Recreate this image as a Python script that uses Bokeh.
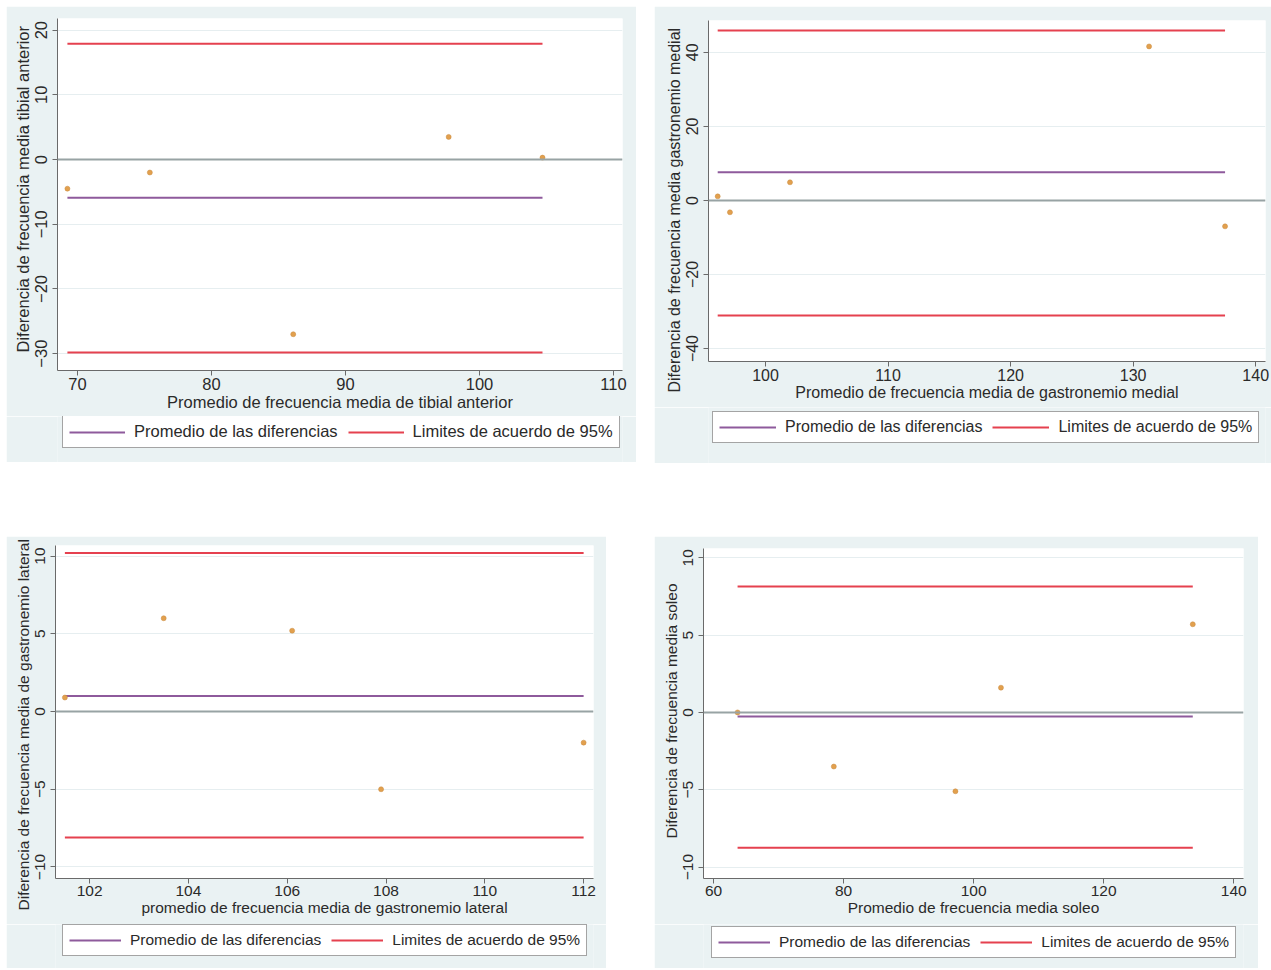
from bokeh.plotting import figure
from bokeh.models import (Range1d, FixedTicker, Legend, LegendItem, Span, Spacer, ColumnDataSource, Title)
from bokeh.layouts import row, column
from bokeh.embed import file_html
from bokeh.resources import INLINE

# ---------------- data ----------------
# Panel 1: tibial anterior
avg_ta = [69.25, 75.4, 86.1, 97.7, 104.7]
diff_ta = [-4.5, -2.0, -27.0, 3.5, 0.3]
mean_ta = -5.9
loa_ta = [-29.8, 17.9]

# Panel 2: gastronemio medial
avg_gm = [96.1, 97.1, 102.0, 131.3, 137.5]
diff_gm = [1.1, -3.2, 4.9, 41.6, -7.0]
mean_gm = 7.6
loa_gm = [-31.1, 45.9]

# Panel 3: gastronemio lateral
avg_gl = [101.5, 103.5, 106.1, 107.9, 112.0]
diff_gl = [0.9, 6.0, 5.2, -5.0, -2.0]
mean_gl = 1.0
loa_gl = [-8.1, 10.2]

# Panel 4: soleo
avg_so = [63.7, 78.5, 97.2, 104.2, 133.7]
diff_so = [0.0, -3.5, -5.1, 1.6, 5.7]
mean_so = -0.26
loa_so = [-8.75, 8.15]

xticks_ta = [70, 80, 90, 100, 110]
yticks_ta = [-30, -20, -10, 0, 10, 20]
xticks_gm = [100, 110, 120, 130, 140]
yticks_gm = [-40, -20, 0, 20, 40]
xticks_gl = [102, 104, 106, 108, 110, 112]
yticks_gl = [-10, -5, 0, 5, 10]
xticks_so = [60, 80, 100, 120, 140]
yticks_so = [-10, -5, 0, 5, 10]

legend_labels = ["Promedio de las diferencias", "Limites de acuerdo de 95%"]

FONT = "Liberation Sans"
OUTER = "#EAF2F3"
PURPLE = "#8E5A9C"
RED = "#E5414F"
DOT = "#E2A04E"
ZERO = "#98A3A4"
AXIS = "#6A6A6A"
TEXT = "#2A2A2A"


def style_legend(legend, fs, glyph_w, label_w):
    legend.border_line_color = "#4A4A4A"
    legend.border_line_width = 1
    legend.background_fill_color = "white"
    legend.background_fill_alpha = 1
    legend.label_text_font = FONT
    legend.label_text_font_size = f"{fs}px"
    legend.label_text_color = TEXT
    legend.glyph_width = glyph_w
    legend.glyph_height = 18
    legend.label_standoff = 9
    legend.label_width = label_w
    legend.label_height = 18
    legend.spacing = 10
    legend.padding = 6
    legend.margin = 0


def make_panel(avg, diff, mean_d, loa, xt, yt, xr, yr, fig_w, fig_h, frame, xtitle, ytitle,
               fs, legend_fs, glyph_w, label_w, leg_box, ytitle_offset):
    fl, fr, ft, fb, fig_left, fig_top = frame
    bl = fl - fig_left
    bt = ft - fig_top
    fw = fr - fl
    fh = fb - ft
    br = fig_w - bl - fw
    bb = 46
    p = figure(frame_width=fw, frame_height=fh, output_backend="svg", toolbar_location=None,
               x_range=Range1d(*xr), y_range=Range1d(*yr),
               min_border_left=bl, min_border_right=br, min_border_top=bt,
               min_border_bottom=bb)
    p.background_fill_color = "white"
    p.border_fill_color = OUTER
    p.outline_line_color = None

    p.xgrid.grid_line_color = None
    p.ygrid.grid_line_color = "#E6EEF0"
    p.ygrid.grid_line_width = 1
    p.ygrid.ticker = FixedTicker(ticks=yt)
    p.xaxis.ticker = FixedTicker(ticks=xt)
    p.yaxis.ticker = FixedTicker(ticks=yt)

    for ax in (p.xaxis[0], p.yaxis[0]):
        ax.axis_line_color = AXIS
        ax.major_tick_line_color = AXIS
        ax.major_tick_out = 5
        ax.major_tick_in = 0
        ax.minor_tick_line_color = None
        ax.major_label_text_font = FONT
        ax.major_label_text_font_size = f"{fs}px"
        ax.major_label_text_color = TEXT
        ax.axis_label_text_font = FONT
        ax.axis_label_text_font_size = f"{fs}px"
        ax.axis_label_text_font_style = "normal"
        ax.axis_label_text_color = TEXT
    p.xaxis.axis_label = xtitle
    p.xaxis.major_label_standoff = 2
    p.xaxis.axis_label_standoff = 0
    p.yaxis.major_label_orientation = "vertical"
    p.yaxis.major_label_standoff = 5

    yt_title = Title(text=ytitle, align="left", offset=ytitle_offset, standoff=2,
                     text_font=FONT, text_font_size=f"{fs}px", text_font_style="normal",
                     text_color=TEXT)
    p.add_layout(yt_title, "left")

    p.add_layout(Span(location=0, dimension="width", line_color=ZERO, line_width=2))

    x0 = min(avg)
    x1 = max(avg)
    src_mean = ColumnDataSource(dict(x0=[x0], x1=[x1], y=[mean_d]))
    src_loa = ColumnDataSource(dict(x0=[x0, x0], x1=[x1, x1], y=loa))
    p.segment(x0="x0", y0="y", x1="x1", y1="y", source=src_mean,
              line_color=PURPLE, line_width=2)
    p.segment(x0="x0", y0="y", x1="x1", y1="y", source=src_loa,
              line_color=RED, line_width=2)
    p.scatter(avg, diff, size=5, fill_color=DOT, line_color="#C98A40", line_width=0.5)

    # legend strip under the plot (same grey graph region); its frame is aligned with the plot's
    plot_bottom = fb + bb
    leg_h = fig_top + fig_h - plot_bottom
    lg = figure(width=fig_w, height=leg_h, output_backend="svg", toolbar_location=None,
                x_range=Range1d(0, 1), y_range=Range1d(0, 1),
                x_axis_location=None, y_axis_location=None,
                min_border_left=bl, min_border_right=br, min_border_top=0, min_border_bottom=0)
    lg.background_fill_color = OUTER
    lg.border_fill_color = OUTER
    lg.outline_line_color = None
    lg.grid.visible = False
    # legend keys reuse the plot's sources (they fall outside this strip's 0..1 ranges)
    g_mean = lg.segment(x0="x0", y0="y", x1="x1", y1="y", source=src_mean,
                        line_color=PURPLE, line_width=2)
    g_loa = lg.segment(x0="x0", y0="y", x1="x1", y1="y", source=src_loa,
                       line_color=RED, line_width=2)
    box_left, box_top = leg_box
    legend = Legend(items=[LegendItem(label=legend_labels[0], renderers=[g_mean]),
                           LegendItem(label=legend_labels[1], renderers=[g_loa])],
                    orientation="horizontal")
    style_legend(legend, legend_fs, glyph_w, label_w)
    legend.location = (box_left - fl, leg_h - (box_top + 30 - plot_bottom))
    lg.add_layout(legend, "center")
    return column(p, lg)


# frame = (frame_left, frame_right, frame_top, frame_bottom, fig_left, fig_top)
p1 = make_panel(avg_ta, diff_ta, mean_ta, loa_ta, xticks_ta, yticks_ta,
                (68.51, 110.67), (-32.6, 21.8), 630, 456, (57, 622, 18, 370, 6, 6),
                "Promedio de frecuencia media de tibial anterior",
                "Diferencia de frecuencia media tibial anterior", 16.5, 16.5, 56, 198, (62, 418), 18)
p2 = make_panel(avg_gm, diff_gm, mean_gm, loa_gm, xticks_gm, yticks_gm,
                (95.35, 140.8), (-43.5, 48.6), 617, 457, (708, 1265, 20, 361, 654, 6),
                "Promedio de frecuencia media de gastronemio medial",
                "Diferencia de frecuencia media gastronemio medial", 16, 16, 57, 194, (712, 413), -31)
p3 = make_panel(avg_gl, diff_gl, mean_gl, loa_gl, xticks_gl, yticks_gl,
                (101.31, 112.2), (-10.74, 10.68), 600, 432, (55, 593, 545, 878, 6, 536),
                "promedio de frecuencia media de gastronemio lateral",
                "Diferencia de frecuencia media de gastronemio lateral", 15.5, 15.5, 52, 186, (62, 926), -32)
p4 = make_panel(avg_so, diff_so, mean_so, loa_so, xticks_so, yticks_so,
                (58.46, 141.5), (-10.74, 10.6), 604, 432, (703, 1243, 548, 878, 654, 536),
                "Promedio de frecuencia media soleo",
                "Diferencia de frecuencia media soleo", 15.5, 15.5, 52, 186, (711, 928), 40)

row1 = row(Spacer(width=6), p1, Spacer(width=18), p2)
row2 = row(Spacer(width=6), p3, Spacer(width=48), p4)
page = column(Spacer(height=6), row1, Spacer(height=73), row2)

open("out.html", "w").write(file_html(page, INLINE))
